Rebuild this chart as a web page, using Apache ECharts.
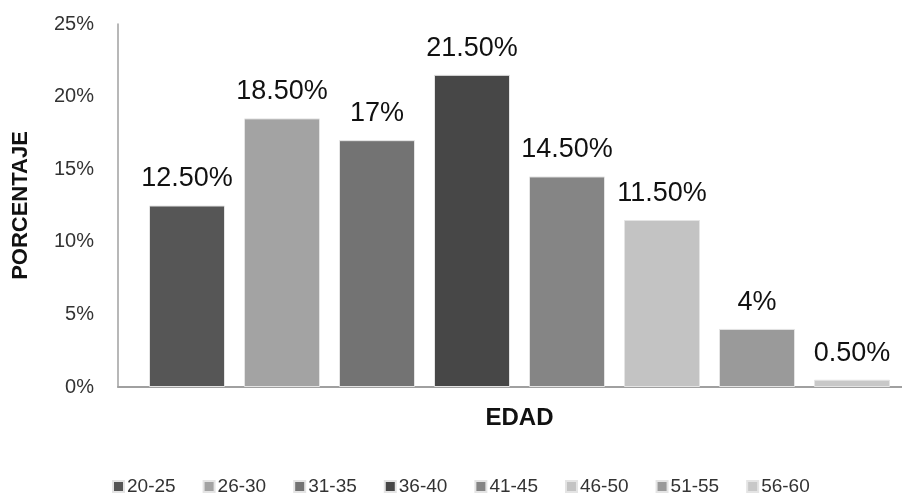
<!DOCTYPE html>
<html>
<head>
<meta charset="utf-8">
<script src="https://cdn.jsdelivr.net/npm/echarts@6/dist/echarts.min.js"></script>
<style>html,body{margin:0;padding:0;background:#fff;}#c{width:902px;height:495px;}</style>
</head>
<body>
<div id="c"></div>
<script>
var ageGroups = ['20-25','26-30','31-35','36-40','41-45','46-50','51-55','56-60'];
var percentValues = [12.5, 18.5, 17, 21.5, 14.5, 11.5, 4, 0.5];
var valueLabels = ['12.50%','18.50%','17%','21.50%','14.50%','11.50%','4%','0.50%'];
var barColors = ['#565656','#a3a3a3','#737373','#474747','#858585','#c3c3c3','#9a9a9a','#c8c8c8'];
var yTicks = [0,5,10,15,20,25];
var FONT = '"Liberation Sans", Arial, sans-serif';

var series = ageGroups.map(function(name, i){
  return {
    name: name,
    type: 'bar',
    data: [percentValues[i]],
    barWidth: 76,
    barGap: '25%',
    itemStyle: {color: barColors[i], borderColor: '#e4e4e4', borderWidth: 1},
    label: {
      show: true, position: 'top', distance: 13,
      formatter: function(){ return valueLabels[i]; },
      color: '#111', fontSize: 27, fontFamily: FONT
    }
  };
});

var chart = echarts.init(document.getElementById('c'), null, {renderer:'canvas'});
chart.setOption({
  animation: false,
  backgroundColor: '#fff',
  grid: {left: 118, right: -19, top: 24, bottom: 108, containLabel: false, outerBoundsMode: 'none'},
  xAxis: {
    type: 'category', data: ['EDAD'],
    name: 'EDAD', nameLocation: 'middle', nameGap: 19,
    nameTextStyle: {fontSize: 24, fontWeight: 'bold', color: '#111', fontFamily: FONT},
    axisLine: {lineStyle: {color: '#a0a0a0', width: 2}},
    axisTick: {show: false},
    axisLabel: {show: false}
  },
  yAxis: {
    type: 'value', min: 0, max: 25, interval: 5,
    name: 'PORCENTAJE', nameLocation: 'middle', nameGap: 86, nameRotate: 90,
    nameTextStyle: {fontSize: 22, fontWeight: 'bold', color: '#111', fontFamily: FONT},
    axisLine: {show: true, lineStyle: {color: '#a0a0a0', width: 1.5}},
    axisTick: {show: false},
    splitLine: {show: false},
    axisLabel: {
      margin: 24, fontSize: 20, color: '#333', fontFamily: FONT,
      formatter: function(v){ return yTicks.indexOf(v) >= 0 ? v + '%' : ''; }
    }
  },
  legend: {
    data: ageGroups,
    left: 107, top: 472,
    itemWidth: 11, itemHeight: 11, itemGap: 27,
    icon: 'rect',
    textStyle: {fontSize: 19, color: '#333', fontFamily: FONT, padding: [0,0,0,-2]}
  },
  series: series
});
</script>
</body>
</html>
